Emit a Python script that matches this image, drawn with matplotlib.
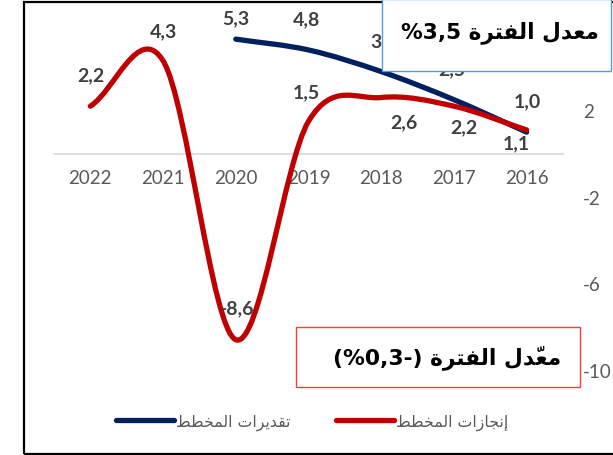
"""Plan estimates vs. plan achievements, growth rate by year (Excel style chart)."""
from __future__ import annotations

import matplotlib

matplotlib.use("Agg")
import matplotlib.pyplot as plt
from matplotlib.lines import Line2D
from matplotlib.patches import PathPatch, Rectangle
from matplotlib.path import Path

YEARS = [2016, 2017, 2018, 2019, 2020, 2021, 2022]
ACTUAL = [1.1, 2.2, 2.6, 1.5, -8.6, 4.3, 2.2]
EST_YEARS = [2016, 2017, 2018, 2019, 2020]
ESTIMATE = [1.0, 2.5, 3.8, 4.8, 5.3]
Y_TICKS = [-10, -6, -2, 2]

LEGEND_ACTUAL = "إنجازات المخطط"
LEGEND_ESTIMATE = "تقديرات المخطط"
BOX_PLAN = ("معدل الفترة", "%3,5")
BOX_ACTUAL = ("معدّل الفترة", "(%0,3-)")

# data label offsets in pixels (dx, dy); some were dragged by hand in Excel
ACTUAL_OFFSETS = [(-10, -13), (10, -21), (23, -24), (-2, 30), (1, 32), (0, 30), (0, 31)]
ESTIMATE_OFFSETS = [(1, 31), (-2, 31), (3, 31), (-2, 31), (0, 21)]

RED = "#C00000"
BLUE = "#002060"
GREY = "#595959"
LABEL = "#404040"

# Arabic presentation forms: letter -> (isolated code point, dual joining)
FORMS = {
    "ا": (0xFE8D, False), "إ": (0xFE87, False), "ة": (0xFE93, False),
    "د": (0xFEA9, False), "ر": (0xFEAD, False), "ز": (0xFEAF, False),
    "ت": (0xFE95, True), "ج": (0xFE9D, True), "خ": (0xFEA5, True),
    "ط": (0xFEC1, True), "ع": (0xFEC9, True), "ف": (0xFED1, True),
    "ق": (0xFED5, True), "ل": (0xFEDD, True), "م": (0xFEE1, True),
    "ن": (0xFEE5, True), "ي": (0xFEF1, True),
}
MARKS = "\u064b\u064c\u064d\u064e\u064f\u0650\u0651\u0652"


def arabic(text: str) -> str:
    """Shape Arabic letters by hand and return the text in visual order."""
    clusters: list[list[str]] = []
    for ch in text:
        if ch in MARKS and clusters:
            clusters[-1][1] += ch
        else:
            clusters.append([ch, ""])
    out = []
    for i, (ch, marks) in enumerate(clusters):
        if ch in FORMS:
            base, dual = FORMS[ch]
            prev = clusters[i - 1][0] if i > 0 else ""
            nxt = clusters[i + 1][0] if i + 1 < len(clusters) else ""
            join_prev = prev in FORMS and FORMS[prev][1]
            join_next = dual and nxt in FORMS
            if join_prev and join_next:
                ch = chr(base + 3)
            elif join_prev:
                ch = chr(base + 1)
            elif join_next:
                ch = chr(base + 2)
            else:
                ch = chr(base)
        out.append(ch + marks)
    return "".join(reversed(out))


def smooth_path(xs: list[float], ys: list[float]) -> Path:
    """Excel-like smoothed line: Catmull-Rom segments as cubic Bezier curves."""
    pts = list(zip(xs, ys))
    n = len(pts)
    ext = [(2 * pts[0][0] - pts[1][0], 2 * pts[0][1] - pts[1][1])] + pts
    ext += [(2 * pts[-1][0] - pts[-2][0], 2 * pts[-1][1] - pts[-2][1])]
    verts = [pts[0]]
    codes = [Path.MOVETO]
    for i in range(n - 1):
        p0, p1, p2, p3 = ext[i], ext[i + 1], ext[i + 2], ext[i + 3]
        c1 = (p1[0] + (p2[0] - p0[0]) / 6, p1[1] + (p2[1] - p0[1]) / 6)
        c2 = (p2[0] - (p3[0] - p1[0]) / 6, p2[1] - (p3[1] - p1[1]) / 6)
        verts += [c1, c2, p2]
        codes += [Path.CURVE4] * 3
    return Path(verts, codes)


def draw_series(ax, xs, ys, color, offsets) -> None:
    ax.add_patch(PathPatch(smooth_path(xs, ys), fill=False, edgecolor=color,
                           linewidth=3.8, capstyle="round", joinstyle="round",
                           zorder=3))
    for x, y, (dx, dy) in zip(xs, ys, offsets):
        ax.annotate(f"{y:.1f}".replace(".", ","), (x, y), xytext=(dx, dy),
                    textcoords="offset pixels", ha="center", va="center",
                    fontsize=14, fontweight="bold", color=LABEL,
                    family=["Lato", "DejaVu Sans"], zorder=4)


def main() -> None:
    plt.rcParams["font.family"] = ["Lato", "DejaVu Sans"]
    plt.rcParams["axes.unicode_minus"] = False

    fig = plt.figure(figsize=(6.13, 4.56), dpi=100)
    ax = fig.add_axes([54 / 613, 1 - 371 / 456, 509 / 613, 346 / 456])
    ax.set_xlim(2022.5, 2015.5)
    ax.set_ylim(-10, 6)

    draw_series(ax, EST_YEARS, ESTIMATE, BLUE, ESTIMATE_OFFSETS)
    draw_series(ax, YEARS, ACTUAL, RED, ACTUAL_OFFSETS)

    for side in ("top", "left", "right"):
        ax.spines[side].set_visible(False)
    ax.spines["bottom"].set_position(("data", 0))
    ax.spines["bottom"].set_color("#D9D9D9")
    ax.spines["bottom"].set_linewidth(1.2)
    ax.set_xticks(YEARS)
    ax.set_xticklabels([str(y) for y in YEARS])
    ax.set_yticks(Y_TICKS)
    ax.set_yticklabels([str(t) for t in Y_TICKS])
    ax.yaxis.tick_right()
    ax.tick_params(axis="x", length=0, pad=11, labelsize=13.5, labelcolor=GREY)
    ax.tick_params(axis="y", length=0, pad=14.4, labelsize=13.5, labelcolor=GREY)
    ax.patch.set_alpha(0)

    handles = [
        Line2D([], [], color=BLUE, linewidth=3.8, solid_capstyle="round"),
        Line2D([], [], color=RED, linewidth=3.8, solid_capstyle="round"),
    ]
    fig.legend(handles, [arabic(LEGEND_ESTIMATE), arabic(LEGEND_ACTUAL)],
               loc="center", bbox_to_anchor=(312 / 613, 1 - 423 / 456), ncol=2,
               frameon=False, handlelength=3.7, handletextpad=0.15,
               columnspacing=2.9, prop={"family": "DejaVu Sans", "size": 11.3},
               labelcolor=GREY)

    # outer frame of the pasted chart
    fig.add_artist(Rectangle((24 / 613, 1.5 / 456), 1.0, 452 / 456, fill=False,
                             edgecolor="black", linewidth=1.6,
                             transform=fig.transFigure, zorder=1))

    # period average boxes
    fig.add_artist(Rectangle((382 / 613, 1 - 72 / 456), 229 / 613, 72 / 456,
                             facecolor="white", edgecolor="#5B9BD5", linewidth=1,
                             transform=fig.transFigure, zorder=5))
    fig.text(500 / 613, 1 - 33 / 456, BOX_PLAN[1] + " " + arabic(BOX_PLAN[0]),
             ha="center", va="center", fontsize=15.6, fontweight="bold",
             family=["DejaVu Sans"], color="black", zorder=6)
    fig.add_artist(Rectangle((296 / 613, 1 - 388 / 456), 284 / 613, 60 / 456,
                             facecolor="white", edgecolor="#FF3B3B", linewidth=1,
                             transform=fig.transFigure, zorder=5))
    fig.text(447 / 613, 1 - 358 / 456, BOX_ACTUAL[1] + " " + arabic(BOX_ACTUAL[0]),
             ha="center", va="center", fontsize=15.7, fontweight="bold",
             family=["DejaVu Sans"], color="black", zorder=6)

    fig.savefig("out.png", dpi=100)
    plt.close(fig)


if __name__ == "__main__":
    main()
